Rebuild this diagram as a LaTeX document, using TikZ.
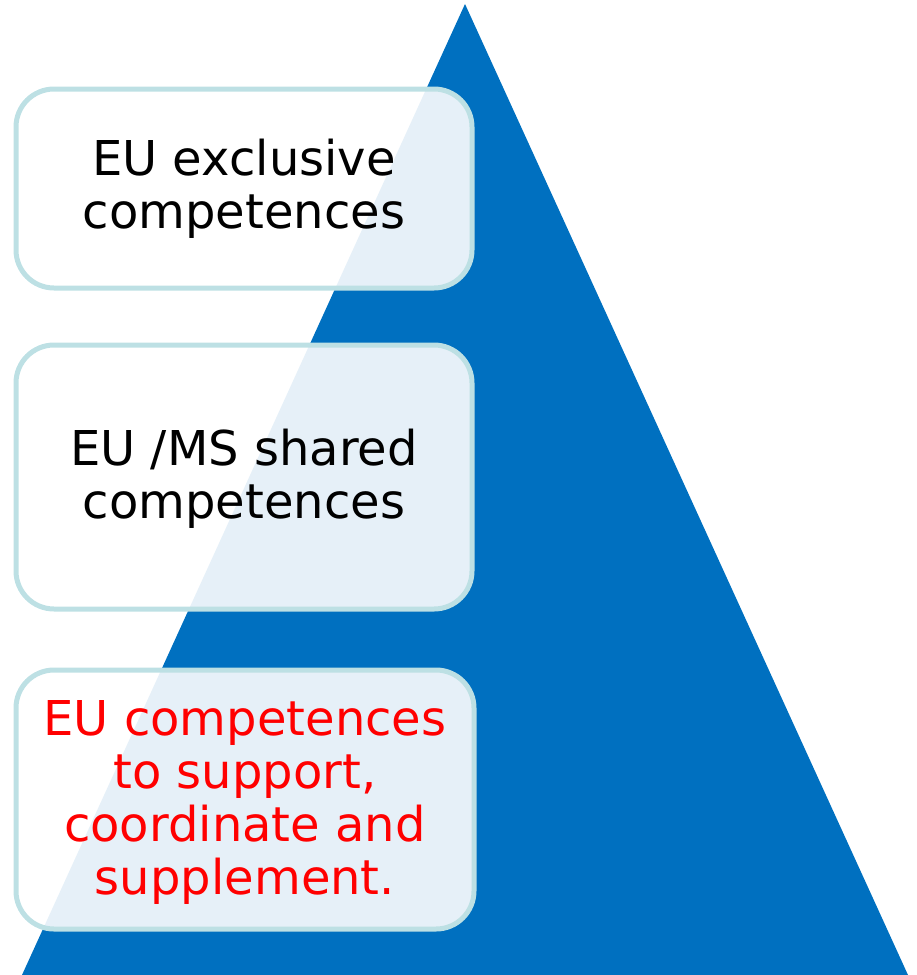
\documentclass[tikz,border=0pt]{standalone}
\usepackage{fontspec}
\setmainfont{DejaVu Sans}
\definecolor{triblue}{HTML}{0070C0}
\definecolor{boxline}{HTML}{BDE0E4}
\definecolor{eured}{HTML}{FF0000}
\begin{document}
\begin{tikzpicture}[x=1pt,y=-1pt,
  compbox/.style={draw=boxline,line width=5pt,fill=white,fill opacity=0.9,rounded corners=38pt},
  comptext/.style={align=center,font=\fontsize{48}{53}\selectfont,text opacity=1}]
\useasboundingbox (0,0) rectangle (917,975);
\fill[triblue] (465,4) -- (908,975) -- (22,975) -- cycle;
\draw[compbox] (16,89) rectangle (472,288);
\draw[compbox] (16,345) rectangle (472,609);
\draw[compbox] (16,670) rectangle (474,929);
\node[comptext] (t1) at (244,189) {EU exclusive\\competences};
\node[comptext] (t2) at (244,479) {EU /MS shared\\competences};
\node[comptext,text=eured] (t3) at (245,802) {EU competences\\to support,\\coordinate and\\supplement.};
\end{tikzpicture}
\end{document}
